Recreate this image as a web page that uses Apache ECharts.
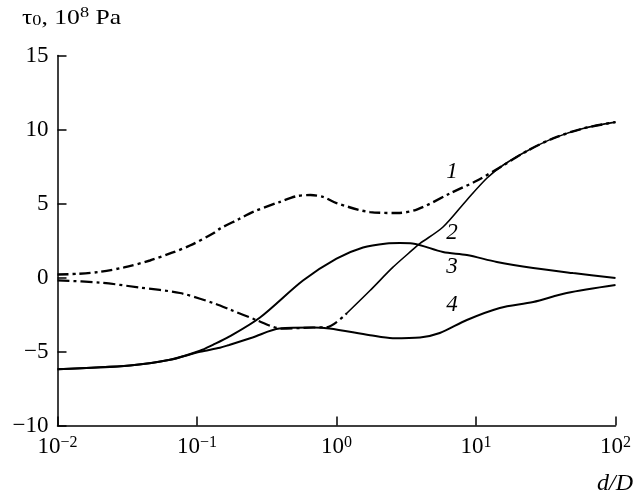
<!DOCTYPE html>
<html>
<head>
<meta charset="utf-8">
<script src="https://cdn.jsdelivr.net/npm/echarts@6/dist/echarts.min.js"></script>
<style>
  html, body { margin: 0; padding: 0; background: #fff; }
  #chart { width: 634px; height: 499px; }
</style>
</head>
<body>
<div id="chart"></div>
<script>
// Shear stress tau_0 (10^8 Pa) against d/D, four cases.
const xTicks = [0.01, 0.1, 1, 10, 100];
const yTicks = [-10, -5, 0, 5, 10, 15];

const curve1 = [
  [0.01, 0.2], [0.014, 0.25], [0.02, 0.38], [0.03, 0.68], [0.046, 1.15],
  [0.067, 1.69], [0.089, 2.16], [0.13, 2.97], [0.146, 3.3], [0.2, 3.95],
  [0.25, 4.42], [0.39, 5.1], [0.52, 5.5], [0.65, 5.57], [0.8, 5.45],
  [1.0, 5.03], [1.74, 4.42], [2.72, 4.36], [3.8, 4.6], [6.5, 5.68],
  [10.2, 6.55], [14.9, 7.45], [23.2, 8.55], [35.7, 9.4], [58.5, 10.07], [100, 10.5]
];

// curve 2: dash-dot up to the start of the rise, solid afterwards
const curve2Dashed = [
  [0.01, -0.2], [0.02, -0.34], [0.039, -0.68], [0.0755, -1.05], [0.13, -1.72],
  [0.172, -2.16], [0.27, -2.9], [0.33, -3.24], [0.4, -3.45], [0.68, -3.38],
  [0.85, -3.36], [1.19, -2.4]
];
const curve2Solid = [
  [1.19, -2.4], [1.74, -0.88], [2.53, 0.68], [3.5, 1.86], [3.97, 2.3],
  [5.8, 3.41], [8.6, 5.24], [12, 6.72], [15.7, 7.6], [23.2, 8.55],
  [35.7, 9.4], [58.5, 10.07], [100, 10.5]
];

const curve3 = [
  [0.01, -6.2], [0.033, -5.95], [0.064, -5.56], [0.105, -4.95], [0.13, -4.55],
  [0.17, -4.0], [0.283, -2.7], [0.575, -0.2], [1.0, 1.28], [1.55, 2.03],
  [2.29, 2.3], [2.85, 2.33], [3.5, 2.3], [5.8, 1.72], [8.6, 1.52],
  [14.1, 1.05], [25.7, 0.64], [49.6, 0.3], [100, -0.03]
];

const curve4 = [
  [0.01, -6.2], [0.033, -5.95], [0.064, -5.56], [0.105, -5.02], [0.146, -4.75],
  [0.17, -4.56], [0.25, -4.05], [0.39, -3.45], [0.68, -3.38], [0.89, -3.45],
  [1.74, -3.9], [2.53, -4.1], [3.97, -4.05], [5.5, -3.75], [8.6, -2.87],
  [14.8, -2.06], [25.7, -1.66], [44.7, -1.05], [100, -0.51]
];

// curve number tags: [name, x, y]
const curveTags = [
  ['1', 6.73, 7.1],
  ['2', 6.73, 3.0],
  ['3', 6.73, 0.7],
  ['4', 6.73, -1.85]
];

const serif = '"Liberation Serif", "Times New Roman", serif';
const minus = s => String(s).replace('-', '\u2212');

function tag(i) {
  const t = curveTags[i];
  return {
    symbol: 'circle',
    symbolSize: 0,
    silent: true,
    label: {
      show: true,
      position: 'inside',
      color: '#000',
      fontFamily: serif,
      fontStyle: 'italic',
      fontSize: 23,
      formatter: t[0]
    },
    data: [{ coord: [t[1], t[2]] }]
  };
}

const chart = echarts.init(document.getElementById('chart'), null, { renderer: 'canvas' });

const plain = { fontFamily: serif, fontWeight: 'normal', fill: '#000', color: '#000' };

chart.setOption({
  animation: false,
  backgroundColor: '#fff',
  textStyle: { fontFamily: serif },
  grid: { left: 57.5, right: 18.5, top: 55.5, bottom: 73.5 },
  graphic: [
    // y-axis quantity and unit (set a little wide)
    {
      type: 'text',
      x: 22,
      y: 6,
      scaleX: 1.22,
      silent: true,
      style: {
        text: '{m|\u03c4}{sub|0}{m|, 10}{sup|8}{m| Pa}',
        fontFamily: serif,
        fontSize: 21,
        fill: '#000',
        rich: {
          m: Object.assign({ fontSize: 21, padding: [0, 0, 5, 0] }, plain),
          sub: Object.assign({ fontSize: 15 }, plain),
          sup: Object.assign({ fontSize: 15, padding: [0, 0, 15, 0] }, plain)
        }
      }
    },
    // x-axis quantity
    {
      type: 'text',
      right: 1,
      top: 472,
      silent: true,
      style: { text: 'd/D', fontFamily: serif, fontSize: 24, fontStyle: 'italic', fill: '#000' }
    }
  ],
  xAxis: {
    type: 'log',
    logBase: 10,
    min: xTicks[0],
    max: xTicks[xTicks.length - 1],
    axisLine: { onZero: false, lineStyle: { color: '#000', width: 1.5 } },
    axisTick: { inside: true, length: 9, lineStyle: { color: '#000', width: 1.5 } },
    splitLine: { show: false },
    minorTick: { show: false },
    axisLabel: {
      margin: 9,
      showMinLabel: true,
      showMaxLabel: true,
      formatter: v => '{b|10}{s|' + minus(Math.round(Math.log10(v))) + '}',
      rich: {
        b: Object.assign({ fontSize: 23 }, plain),
        s: Object.assign({ fontSize: 16, padding: [0, 0, 9, 0] }, plain)
      }
    }
  },
  yAxis: {
    type: 'value',
    min: yTicks[0],
    max: yTicks[yTicks.length - 1],
    interval: 5,
    axisLine: { show: true, onZero: false, lineStyle: { color: '#000', width: 1.5 } },
    axisTick: { show: true, inside: true, length: 9, lineStyle: { color: '#000', width: 1.5 } },
    splitLine: { show: false },
    axisLabel: {
      margin: 9,
      color: '#000',
      fontSize: 23,
      fontFamily: serif,
      formatter: v => minus(v)
    }
  },
  series: [
    {
      name: '1', type: 'line', data: curve1, showSymbol: false, smooth: 0.3,
      lineStyle: { color: '#000', width: 2.4, type: [11, 4, 3, 4] },
      markPoint: tag(0)
    },
    {
      name: '2a', type: 'line', data: curve2Dashed, showSymbol: false, smooth: 0.3,
      lineStyle: { color: '#000', width: 2.2, type: [12, 4, 3, 4] },
      markPoint: tag(1)
    },
    {
      name: '2b', type: 'line', data: curve2Solid, showSymbol: false, smooth: 0.3,
      lineStyle: { color: '#000', width: 1.6 }
    },
    {
      name: '3', type: 'line', data: curve3, showSymbol: false, smooth: 0.3,
      lineStyle: { color: '#000', width: 2 },
      markPoint: tag(2)
    },
    {
      name: '4', type: 'line', data: curve4, showSymbol: false, smooth: 0.3,
      lineStyle: { color: '#000', width: 2 },
      markPoint: tag(3)
    }
  ]
});
</script>
</body>
</html>
